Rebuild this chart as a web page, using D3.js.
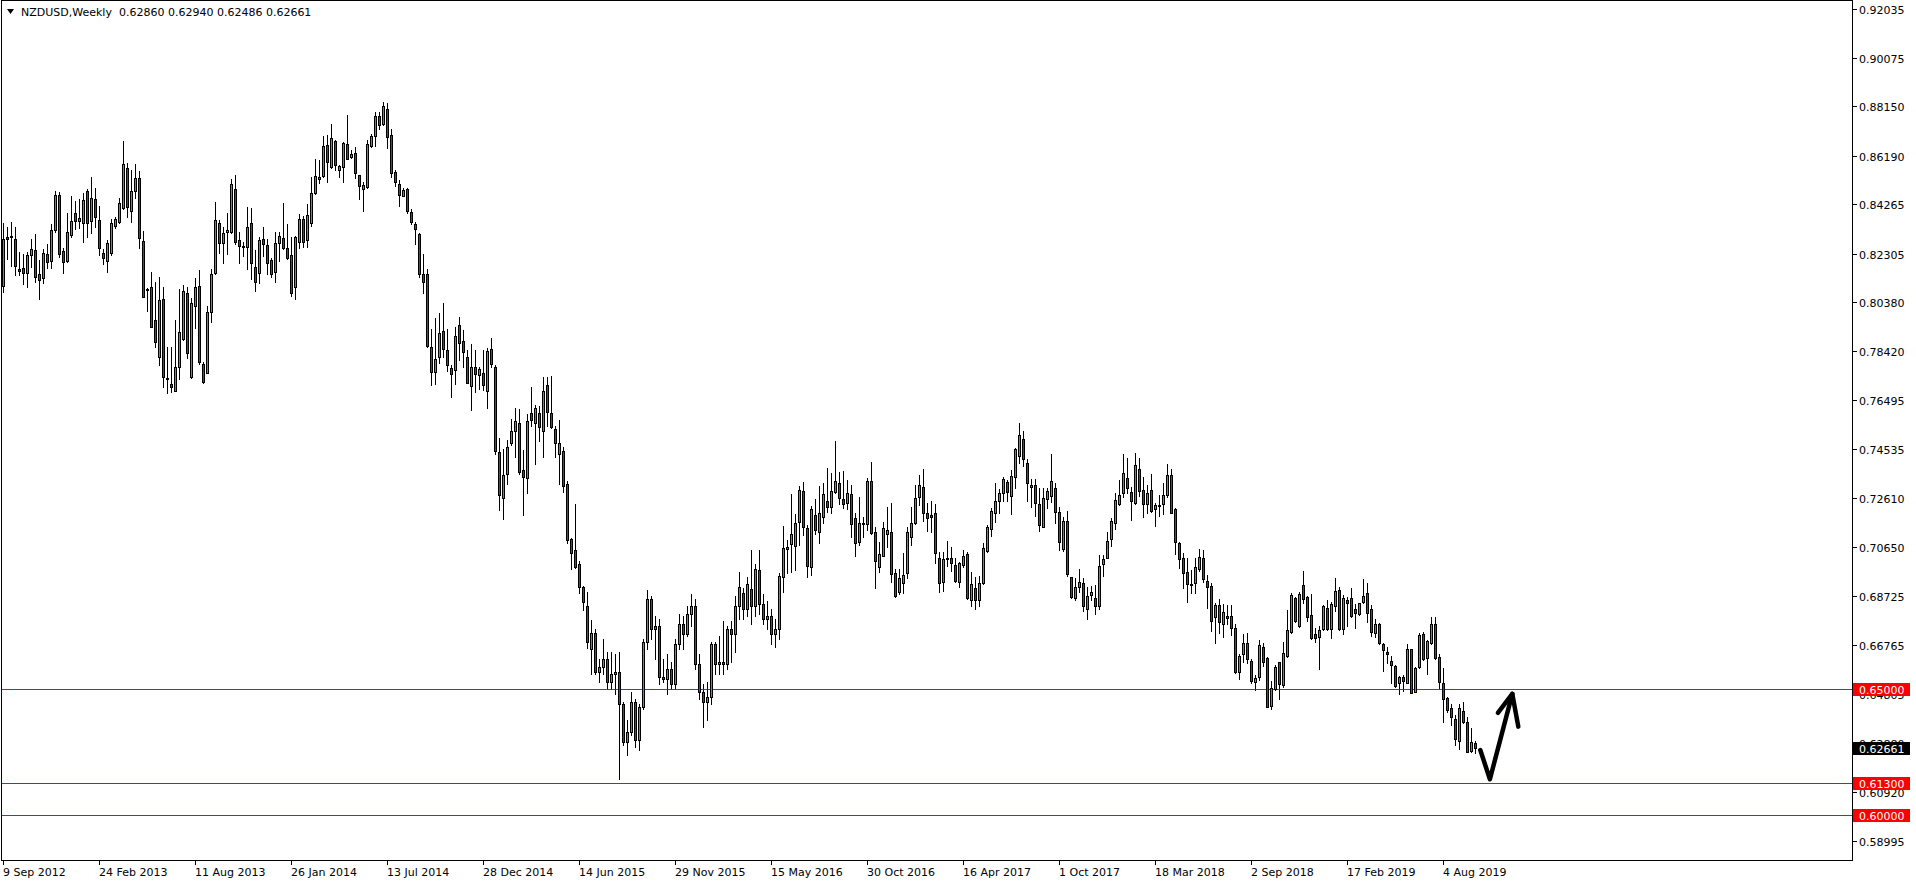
<!DOCTYPE html>
<html><head><meta charset="utf-8">
<script src="https://cdn.jsdelivr.net/npm/d3@7"></script>
<style>
html,body{margin:0;padding:0;background:#fff;overflow:hidden}
text{font-family:"DejaVu Sans",sans-serif;font-size:11px}
</style>
</head><body>
<svg id="c" width="1916" height="884"></svg>
<script>
// ---------- DATA ----------
const symbolTitle = "NZDUSD,Weekly";
const firstWeek = "9 Sep 2012";
const xTickLabels = ["9 Sep 2012","24 Feb 2013","11 Aug 2013","26 Jan 2014","13 Jul 2014","28 Dec 2014","14 Jun 2015","29 Nov 2015","15 May 2016","30 Oct 2016","16 Apr 2017","1 Oct 2017","18 Mar 2018","2 Sep 2018","17 Feb 2019","4 Aug 2019"];
const xTickEvery = 24; // weeks between date labels
const yTickValues = [0.92035,0.90075,0.88150,0.86190,0.84265,0.82305,0.80380,0.78420,0.76495,0.74535,0.72610,0.70650,0.68725,0.66765,0.64805,0.62880,0.60920,0.58995];
const levelLines = [0.65000, 0.61300, 0.60000];
const lastPrice = 0.62661;
const priceDomain = [0.58183, 0.92377];

const opens = [
.8103,.8297,.8295,.8287,.8168,.8172,.8152,.8226,.8245,.8150,
.8132,.8228,.8202,.8324,.8462,.8241,.8202,.8303,.8390,.8361,
.8351,.8481,.8361,.8446,.8364,.8232,.8202,.8232,.8341,.8357,
.8410,.8569,.8400,.8480,.8529,.8279,.8088,.8099,.7967,.7821,
.8050,.7735,.7711,.7686,.7779,.7890,.8073,.7742,.8023,.8102,
.7792,.7758,.8000,.8155,.8351,.8274,.8318,.8318,.8486,.8284,
.8262,.8255,.8351,.8176,.8152,.8287,.8265,.8205,.8156,.8271,
.8291,.8252,.8225,.8099,.8278,.8367,.8285,.8351,.8470,.8528,
.8539,.8662,.8576,.8679,.8563,.8573,.8666,.8616,.8629,.8543,
.8486,.8497,.8658,.8698,.8777,.8744,.8804,.8702,.8556,.8507,
.8461,.8486,.8396,.8347,.8308,.8148,.8150,.7861,.7762,.7819,
.7923,.7848,.7775,.7768,.7948,.7883,.7818,.7703,.7779,.7750,
.7756,.7686,.7850,.7782,.7444,.7259,.7357,.7480,.7527,.7559,
.7371,.7338,.7598,.7559,.7598,.7527,.7707,.7598,.7533,.7433,
.7448,.7314,.7098,.7052,.6997,.6906,.6831,.6660,.6725,.6570,
.6590,.6620,.6530,.6560,.6570,.6440,.6290,.6330,.6450,.6300,
.6430,.6690,.6860,.6740,.6750,.6550,.6540,.6580,.6520,.6680,
.6760,.6720,.6800,.6830,.6600,.6490,.6450,.6470,.6680,.6600,
.6610,.6600,.6740,.6720,.6830,.6881,.6820,.6900,.6830,.6974,
.6840,.6780,.6790,.6720,.6740,.6945,.7056,.7076,.7071,.7166,
.7288,.7140,.6987,.7192,.7126,.7186,.7248,.7226,.7282,.7318,
.7255,.7241,.7274,.7179,.7087,.7160,.7155,.7326,.7124,.6987,
.7031,.7116,.7125,.6961,.6888,.6921,.6961,.7106,.7159,.7265,
.7304,.7199,.7191,.7199,.7020,.6928,.7018,.7023,.6994,.6928,
.6992,.7036,.6855,.6901,.6855,.6924,.7049,.7135,.7199,.7249,
.7278,.7322,.7269,.7342,.7428,.7494,.7398,.7302,.7310,.7236,
.7146,.7255,.7269,.7298,.7206,.7059,.7167,.6945,.6864,.6905,
.6921,.6820,.6875,.6861,.6830,.6996,.7023,.7097,.7162,.7235,
.7278,.7338,.7285,.7241,.7374,.7290,.7236,.7290,.7215,.7229,
.7236,.7273,.7350,.7215,.7080,.7020,.6965,.6913,.6921,.6977,
.7020,.6932,.6911,.6786,.6835,.6760,.6791,.6791,.6742,.6570,
.6639,.6683,.6613,.6531,.6548,.6667,.6623,.6434,.6500,.6607,
.6517,.6634,.6726,.6862,.6753,.6914,.6867,.6795,.6718,.6707,
.6738,.6822,.6741,.6831,.6895,.6738,.6855,.6864,.6818,.6798,
.6846,.6881,.6818,.6725,.6760,.6679,.6650,.6613,.6593,.6524,
.6548,.6527,.6659,.6491,.6587,.6720,.6623,.6683,.6760,.6630,
.6524,.6464,.6426,.6381,.6296,.6413,.6369,.6256,.62860];
const highs = [
.8353,.8338,.8356,.8338,.8238,.8229,.8238,.8287,.8307,.8205,
.8249,.8269,.8348,.8480,.8476,.8251,.8393,.8458,.8440,.8449,
.8471,.8486,.8533,.8490,.8420,.8248,.8285,.8367,.8377,.8451,
.8676,.8589,.8563,.8586,.8559,.8320,.8092,.8159,.8119,.8136,
.8099,.7858,.7858,.7967,.8091,.8106,.8097,.8053,.8132,.8165,
.7801,.8023,.8168,.8434,.8364,.8338,.8391,.8525,.8541,.8318,
.8278,.8414,.8410,.8245,.8298,.8338,.8287,.8212,.8318,.8318,
.8430,.8348,.8298,.8301,.8388,.8380,.8426,.8533,.8605,.8602,
.8698,.8702,.8745,.8682,.8582,.8675,.8781,.8642,.8655,.8543,
.8516,.8680,.8706,.8794,.8794,.8834,.8830,.8724,.8563,.8523,
.8490,.8490,.8409,.8357,.8314,.8229,.8168,.7930,.7973,.7993,
.8036,.7930,.7789,.7940,.7977,.7926,.7847,.7871,.7847,.7782,
.7847,.7854,.7894,.7790,.7497,.7454,.7490,.7573,.7616,.7612,
.7451,.7595,.7699,.7631,.7627,.7742,.7742,.7746,.7544,.7569,
.7462,.7328,.7102,.7235,.7011,.6911,.6886,.6777,.6740,.6620,
.6700,.6650,.6650,.6640,.6650,.6450,.6380,.6490,.6460,.6440,
.6700,.6895,.6870,.6790,.6780,.6620,.6640,.6610,.6700,.6800,
.6790,.6830,.6880,.6860,.6640,.6520,.6530,.6690,.6690,.6710,
.6770,.6750,.6770,.6871,.6965,.6901,.6948,.7053,.6997,.7053,
.6880,.6850,.6820,.6780,.6961,.7149,.7093,.7276,.7196,.7308,
.7322,.7153,.7228,.7255,.7308,.7318,.7378,.7358,.7486,.7362,
.7367,.7331,.7312,.7199,.7265,.7186,.7338,.7403,.7144,.7087,
.7166,.7223,.7241,.6977,.6978,.7043,.7146,.7226,.7312,.7351,
.7375,.7241,.7248,.7236,.7047,.7047,.7089,.7064,.7020,.7007,
.7053,.7047,.6965,.6947,.6950,.7080,.7153,.7222,.7318,.7294,
.7345,.7331,.7371,.7457,.7556,.7526,.7413,.7334,.7334,.7298,
.7298,.7298,.7435,.7318,.7226,.7183,.7208,.6947,.6941,.6978,
.6941,.6908,.6912,.6914,.7034,.7034,.7126,.7179,.7278,.7331,
.7435,.7417,.7305,.7437,.7417,.7345,.7312,.7354,.7241,.7272,
.7321,.7394,.7374,.7219,.7086,.7043,.7023,.6974,.7023,.7057,
.7053,.6954,.6921,.6844,.6857,.6839,.6835,.6835,.6760,.6641,
.6720,.6725,.6619,.6557,.6696,.6685,.6627,.6535,.6597,.6610,
.6687,.6815,.6884,.6868,.6888,.6970,.6871,.6879,.6745,.6752,
.6835,.6855,.6848,.6942,.6908,.6875,.6868,.6903,.6839,.6844,
.6938,.6921,.6835,.6778,.6762,.6685,.6670,.6633,.6597,.6553,
.6557,.6679,.6660,.6590,.6723,.6726,.6696,.6789,.6789,.6641,
.6584,.6471,.6442,.6400,.6442,.6449,.6390,.6345,.62940];
const lows = [
.8079,.8208,.8183,.8146,.8146,.8108,.8099,.8179,.8119,.8052,
.8113,.8172,.8175,.8318,.8216,.8152,.8198,.8298,.8327,.8331,
.8278,.8295,.8311,.8338,.8225,.8189,.8159,.8225,.8331,.8351,
.8406,.8377,.8357,.8453,.8254,.8058,.8004,.7938,.7858,.7788,
.7700,.7678,.7682,.7684,.7731,.7888,.7815,.7735,.7934,.7792,
.7718,.7755,.7960,.8150,.8232,.8192,.8229,.8311,.8269,.8192,
.8221,.8168,.8128,.8083,.8115,.8221,.8148,.8139,.8119,.8202,
.8248,.8209,.8062,.8049,.8254,.8258,.8258,.8340,.8467,.8510,
.8536,.8516,.8569,.8563,.8534,.8516,.8605,.8609,.8529,.8449,
.8401,.8490,.8655,.8659,.8724,.8741,.8649,.8536,.8499,.8420,
.8458,.8393,.8347,.8268,.8139,.8075,.7861,.7709,.7712,.7795,
.7821,.7765,.7660,.7713,.7808,.7782,.7715,.7609,.7681,.7693,
.7688,.7616,.7782,.7436,.7213,.7177,.7314,.7472,.7422,.7357,
.7191,.7278,.7544,.7393,.7487,.7422,.7544,.7537,.7422,.7314,
.7285,.7083,.6976,.6983,.6882,.6817,.6666,.6560,.6560,.6530,
.6560,.6500,.6500,.6480,.6145,.6280,.6240,.6320,.6270,.6260,
.6420,.6660,.6700,.6620,.6520,.6530,.6480,.6500,.6500,.6660,
.6660,.6710,.6750,.6580,.6460,.6350,.6380,.6440,.6560,.6560,
.6560,.6580,.6610,.6650,.6780,.6780,.6790,.6760,.6790,.6800,
.6760,.6740,.6680,.6670,.6700,.6888,.6961,.6967,.6974,.7073,
.7113,.6947,.6954,.7117,.7083,.7162,.7206,.7202,.7281,.7235,
.7221,.7216,.7106,.7031,.7073,.7106,.7133,.7115,.6903,.6967,
.7030,.7064,.6928,.6868,.6879,.6881,.6944,.7073,.7157,.7232,
.7170,.7129,.7126,.7000,.6888,.6891,.6990,.6971,.6928,.6908,
.6987,.6857,.6830,.6820,.6830,.6918,.7047,.7110,.7166,.7202,
.7249,.7249,.7196,.7298,.7398,.7388,.7249,.7223,.7190,.7130,
.7143,.7219,.7245,.7162,.7053,.7051,.6950,.6861,.6855,.6888,
.6810,.6780,.6855,.6800,.6820,.6950,.7020,.7069,.7137,.7232,
.7263,.7281,.7172,.7236,.7268,.7183,.7199,.7206,.7150,.7188,
.7195,.7265,.7199,.7037,.6983,.6901,.6848,.6881,.6881,.6971,
.6925,.6822,.6733,.6685,.6723,.6709,.6760,.6716,.6566,.6540,
.6607,.6603,.6524,.6497,.6537,.6593,.6429,.6421,.6497,.6460,
.6511,.6630,.6723,.6769,.6749,.6844,.6773,.6700,.6689,.6581,
.6734,.6736,.6703,.6813,.6736,.6719,.6753,.6789,.6742,.6795,
.6842,.6769,.6712,.6709,.6680,.6574,.6603,.6524,.6511,.6480,
.6495,.6524,.6484,.6488,.6584,.6617,.6561,.6679,.6621,.6504,
.6371,.6410,.6357,.6280,.6263,.6366,.6250,.6250,.62486];
const closes = [
.8287,.8287,.8301,.8181,.8163,.8152,.8225,.8248,.8136,.8126,
.8232,.8199,.8324,.8462,.8228,.8196,.8316,.8359,.8361,.8372,
.8443,.8351,.8450,.8377,.8252,.8214,.8271,.8351,.8368,.8430,
.8586,.8417,.8479,.8529,.8291,.8060,.8085,.7940,.7881,.8046,
.7742,.7733,.7702,.7779,.7918,.8082,.7837,.8033,.8097,.7801,
.7722,.7999,.8150,.8364,.8274,.8314,.8324,.8507,.8278,.8262,
.8255,.8338,.8192,.8119,.8285,.8267,.8195,.8150,.8271,.8300,
.8254,.8212,.8075,.8295,.8367,.8278,.8384,.8470,.8539,.8534,
.8658,.8596,.8688,.8581,.8579,.8669,.8608,.8626,.8549,.8499,
.8503,.8666,.8698,.8777,.8740,.8817,.8695,.8552,.8515,.8463,
.8483,.8401,.8357,.8327,.8150,.8119,.7864,.7762,.7811,.7914,
.7850,.7788,.7753,.7904,.7876,.7840,.7717,.7779,.7753,.7771,
.7707,.7843,.7794,.7448,.7271,.7353,.7462,.7526,.7566,.7364,
.7343,.7566,.7570,.7616,.7542,.7684,.7602,.7540,.7480,.7477,
.7307,.7093,.7040,.6987,.6906,.6846,.6690,.6723,.6570,.6590,
.6620,.6530,.6560,.6570,.6440,.6290,.6330,.6450,.6300,.6430,
.6690,.6860,.6740,.6750,.6550,.6540,.6580,.6520,.6680,.6760,
.6720,.6800,.6830,.6600,.6490,.6450,.6470,.6680,.6600,.6610,
.6600,.6740,.6720,.6830,.6905,.6820,.6917,.6830,.6976,.6840,
.6780,.6790,.6720,.6740,.6950,.7060,.7064,.7117,.7159,.7290,
.7143,.6991,.7215,.7133,.7199,.7274,.7226,.7289,.7326,.7261,
.7235,.7281,.7155,.7080,.7159,.7158,.7326,.7120,.7011,.7036,
.7140,.7133,.6957,.6872,.6941,.6953,.7125,.7162,.7259,.7310,
.7199,.7179,.7186,.7043,.6921,.7016,.7022,.7000,.6932,.7000,
.7030,.6861,.6917,.6855,.6921,.7060,.7143,.7207,.7247,.7278,
.7334,.7282,.7347,.7455,.7509,.7413,.7318,.7312,.7239,.7154,
.7259,.7286,.7326,.7203,.7084,.7167,.6958,.6868,.6905,.6928,
.6830,.6871,.6885,.6830,.6990,.7016,.7089,.7169,.7252,.7272,
.7358,.7301,.7249,.7390,.7289,.7236,.7278,.7210,.7231,.7233,
.7270,.7350,.7202,.7084,.7016,.6961,.6917,.6917,.6985,.7027,
.6937,.6905,.6773,.6835,.6766,.6806,.6785,.6742,.6570,.6633,
.6683,.6619,.6533,.6544,.6676,.6610,.6431,.6504,.6587,.6520,
.6643,.6734,.6875,.6773,.6879,.6858,.6789,.6703,.6703,.6736,
.6831,.6738,.6839,.6891,.6738,.6862,.6842,.6793,.6802,.6842,
.6871,.6802,.6729,.6760,.6683,.6656,.6639,.6597,.6513,.6548,
.6533,.6659,.6487,.6586,.6716,.6619,.6692,.6760,.6623,.6531,
.6460,.6418,.6392,.6304,.6425,.6370,.6252,.6290,.62661];

// hand-drawn annotation arrow, in (bar index, price) space
const arrowStroke = [[369.2,0.6259],[371.6,0.6143],[377.2,0.6482]];
const arrowHead = [[373.6,0.6407],[377.2,0.6482],[378.7,0.6352]];

// ---------- STYLE ----------
const bullColor = "#32b432", bearColor = "#e01010", levelColor = "#ff0000";

// ---------- DRAW ----------
const svg = d3.select("#c");
const plotL = 1.5, plotR = 1852.5, plotT = 0.5, plotB = 860.5;
const x = d3.scaleLinear().domain([0, 1]).range([3.5, 7.5]);
const y = d3.scaleLinear().domain(priceDomain).range([861, 0]);
const ry = v => Math.round(y(v));

svg.append("rect").attr("width",1916).attr("height",884).attr("fill","#fff");

svg.append("clipPath").attr("id","clip").append("rect")
  .attr("x",plotL).attr("y",plotT).attr("width",plotR-plotL).attr("height",plotB-plotT);

const g = svg.append("g").attr("clip-path","url(#clip)").attr("shape-rendering","crispEdges");

// level lines
g.selectAll("line.lvl").data(levelLines).join("line")
  .attr("x1",plotL).attr("x2",plotR)
  .attr("y1",d=>ry(d)+0.5).attr("y2",d=>ry(d)+0.5)
  .attr("stroke",levelColor).attr("stroke-width",1);

const bars = d3.range(closes.length).map(i=>({i,o:opens[i],h:highs[i],l:lows[i],c:closes[i]}));

// wicks
g.selectAll("line.wick").data(bars).join("line")
  .attr("x1",d=>x(d.i)).attr("x2",d=>x(d.i))
  .attr("y1",d=>ry(d.h)).attr("y2",d=>ry(d.l)+1)
  .attr("stroke","#000").attr("stroke-width",1);

// bodies
g.selectAll("rect.body").data(bars).join("rect")
  .attr("x",d=>x(d.i)-1)
  .attr("width",2)
  .attr("y",d=>ry(Math.max(d.o,d.c))+0.5)
  .attr("height",d=>Math.max(0, ry(Math.min(d.o,d.c))-ry(Math.max(d.o,d.c))))
  .attr("fill",d=>d.c>=d.o?bullColor:bearColor)
  .attr("stroke","#000").attr("stroke-width",1);

// arrow annotation
const line = d3.line().x(d=>x(d[0])).y(d=>y(d[1]));
[arrowStroke, arrowHead].forEach(pts=>{
  svg.append("path").attr("d",line(pts)).attr("fill","none")
    .attr("stroke","#000").attr("stroke-width",4.5)
    .attr("stroke-linecap","round").attr("stroke-linejoin","round");
});

// frame
svg.append("rect").attr("x",plotL).attr("y",plotT).attr("width",plotR-plotL).attr("height",plotB-plotT)
  .attr("fill","none").attr("stroke","#000").attr("stroke-width",1).attr("shape-rendering","crispEdges");

// y axis ticks & labels
const yAx = svg.append("g").attr("shape-rendering","crispEdges");
yTickValues.forEach(v=>{
  const yy = ry(v)+0.5;
  yAx.append("line").attr("x1",plotR).attr("x2",plotR+4).attr("y1",yy).attr("y2",yy).attr("stroke","#000");
  yAx.append("text").attr("x",1859).attr("y",yy+4).attr("fill","#000").text(v.toFixed(5));
});

// level & last-price boxes
function priceBox(v, bg){
  const yy = ry(v)+0.5;
  yAx.append("rect").attr("x",1853).attr("y",yy-6.5).attr("width",57).attr("height",13).attr("fill",bg);
  yAx.append("text").attr("x",1859).attr("y",yy+4).attr("fill","#fff").text(v.toFixed(5));
}
levelLines.forEach(v=>priceBox(v, levelColor));
priceBox(lastPrice, "#000");

// x axis ticks & labels
const xAx = svg.append("g").attr("shape-rendering","crispEdges");
xTickLabels.forEach((lab,k)=>{
  const xx = x(k*xTickEvery);
  xAx.append("line").attr("x1",xx).attr("x2",xx).attr("y1",plotB).attr("y2",plotB+4).attr("stroke","#000");
  xAx.append("text").attr("x",xx-0.5).attr("y",876).attr("fill","#000").text(lab);
});

// title
svg.append("path").attr("d",d3.line()([[7,9],[14,9],[10.5,14]])+"Z").attr("fill","#000");
const li = closes.length-1;
svg.append("text").attr("x",21).attr("y",16).attr("fill","#000").attr("xml:space","preserve")
  .text(`${symbolTitle}  ${opens[li].toFixed(5)} ${highs[li].toFixed(5)} ${lows[li].toFixed(5)} ${closes[li].toFixed(5)}`);
</script>
</body></html>
